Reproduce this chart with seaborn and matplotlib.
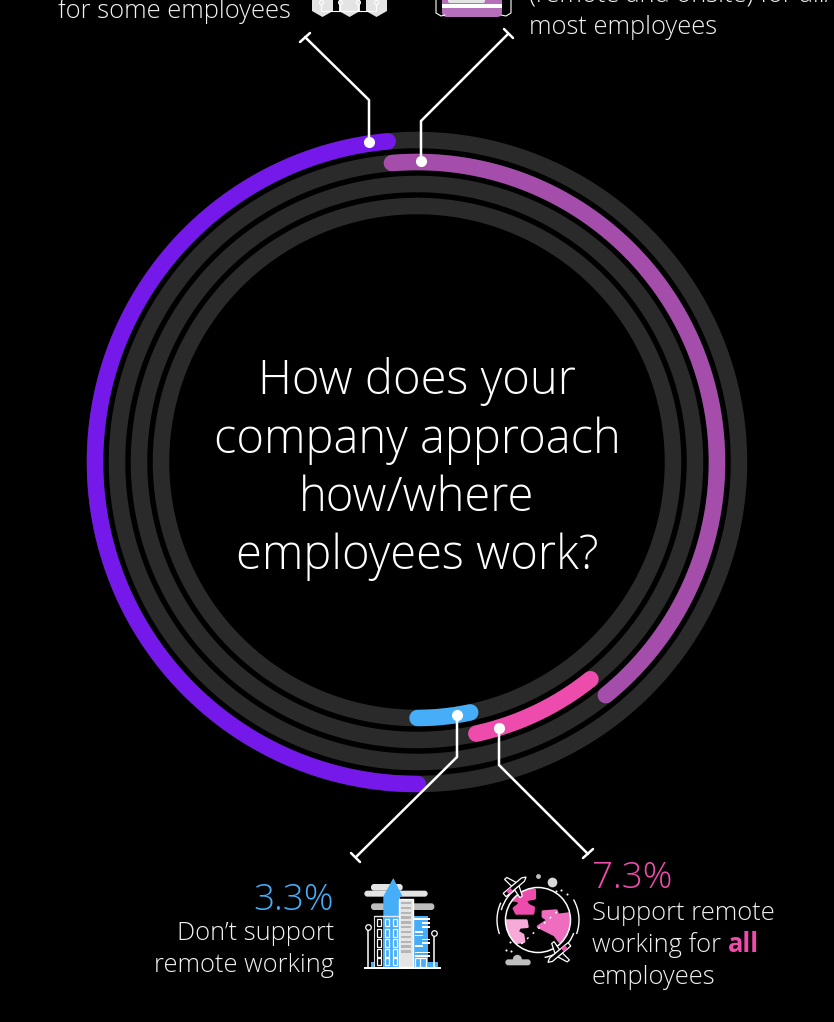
import numpy as np
import pandas as pd
import matplotlib
matplotlib.use("Agg")
import matplotlib.pyplot as plt
from matplotlib.patches import Rectangle, Polygon, Circle, Arc, FancyBboxPatch
import seaborn as sns

categories = ["Support some remote", "Hybrid for all/most", "Remote for all", "No remote"]
values = [48.6, 40.5, 7.3, 3.3]
start_angle_deg = [-5.2, -4.8, 141.4, 168.0]
ring_radius = [322, 300, 278, 256]
colors = ["#7419EA", "#A44DAB", "#EE4CAC", "#46AEF9"]
title_lines = ["How does your", "company approach", "how/where", "employees work?"]

BG = "#000000"
TRACK = "#2A2A2A"
FONT = "Open Sans"
GREY = "#E4E4E4"

sns.set_theme(style="dark", rc={"figure.facecolor": BG, "axes.facecolor": BG,
                                "savefig.facecolor": BG})
plt.rcParams["font.family"] = [FONT, "DejaVu Sans"]

W, H, R = 834, 1022, 340
cx, cy = 417, 462
fig = plt.figure(figsize=(W / 100, H / 100), dpi=100)

ax = fig.add_axes([(cx - R) / W, (H - cy - R) / H, 2 * R / W, 2 * R / H], projection="polar")
ax.set_theta_zero_location("N")
ax.set_theta_direction(-1)
ax.set_ylim(0, R)
ax.axis("off")
LW = 16.5 * 72 / 100

for r in ring_radius:
    th = np.linspace(0, 2 * np.pi, 720)
    df = pd.DataFrame({"t": th, "r": np.full_like(th, r, dtype=float)})
    sns.lineplot(data=df, x="t", y="r", ax=ax, color=TRACK, lw=LW, sort=False, estimator=None)

# purple runs the other way round: counter-clockwise from the top
for i, (v, s, r, c) in enumerate(zip(values, start_angle_deg, ring_radius, colors)):
    sweep = v * 3.6
    th = np.radians(np.linspace(s, s - sweep if i == 0 else s + sweep, 360))
    df = pd.DataFrame({"t": th, "r": np.full_like(th, r, dtype=float)})
    sns.lineplot(data=df, x="t", y="r", ax=ax, color=c, lw=LW, sort=False, estimator=None,
                 solid_capstyle="round")
ax.set_xlabel(""); ax.set_ylabel("")

# overlay in pixel coordinates
ov = fig.add_axes([0, 0, 1, 1], facecolor="none")
ov.set_xlim(0, W); ov.set_ylim(H, 0); ov.axis("off")

def T(x, y, s, size=18.4, color="#F2F2F2", ha="left", weight="light", **k):
    return ov.text(x, y, s, fontsize=size, color=color, ha=ha, va="center", weight=weight, **k)

for y, s in zip([382, 441, 499, 557], title_lines):
    T(417, y, s, size=33.9, ha="center", color="white")

# leaders
leaders = [
    ([369, 369, 305], [142, 100, 37], (310, 33, 300, 42)),
    ([421, 421, 508], [161, 121, 34], (504, 29, 513, 38)),
    ([457, 457, 356], [715, 757, 857], (351, 853, 360, 862)),
    ([499, 499, 588], [728, 765, 854], (593, 849, 583, 858)),
]
for xs, ys, t in leaders:
    ov.plot(xs, ys, color="white", lw=1.8, solid_joinstyle="miter")
    ov.plot([t[0], t[2]], [t[1], t[3]], color="white", lw=1.8)
    ov.plot(xs[0], ys[0], "o", color="white", ms=8, mew=0)

# text blocks
T(58, 11, "for some employees")
T(529, -4, "(remote and onsite) for all/")
T(529, 28, "most employees")
T(334, 900, "3.3%", size=26.6, color=colors[3], ha="right")
T(334, 934, "Don’t support", ha="right")
T(334, 966, "remote working", ha="right")
T(592, 879, "7.3%", size=26.6, color=colors[2])
T(592, 913, "Support remote")
T(592, 945, "working for")
T(728, 945, "all", color=colors[2], weight="bold")
T(592, 977, "employees")

# ---- decorative icons (pixel coordinates) ----
def rect(x0, y0, x1, y1, fc, ec="none", lw=0, z=3, round_=0):
    if round_:
        p = FancyBboxPatch((x0 + round_, y0 + round_), x1 - x0 - 2 * round_, y1 - y0 - 2 * round_,
                           boxstyle=f"round,pad={round_}", fc=fc, ec=ec, lw=lw, zorder=z)
    else:
        p = Rectangle((x0, y0), x1 - x0, y1 - y0, fc=fc, ec=ec, lw=lw, zorder=z)
    ov.add_patch(p)
    return p

# top-left icon
for x0 in (312, 339, 366):
    ov.add_patch(Polygon([(x0, -2), (x0 + 21, -2), (x0 + 21, 11), (x0 + 10.5, 17), (x0, 11)],
                         fc=GREY, ec="none", zorder=3))
ov.plot([321, 321, 376, 376], [2, 11, 11, 2], color="white", lw=0.8, zorder=4)
ov.plot([340, 340], [2, 11], color="white", lw=0.8, zorder=4)
ov.plot([358, 358], [2, 11], color="white", lw=0.8, zorder=4)
for x in (321, 340, 358, 376):
    ov.plot(x, 2, "o", mfc=GREY, mec="white", ms=3, mew=0.7, zorder=5)

# top-right icon
rect(442, -12, 502, 17, "#B56FBB", round_=5)
rect(442, 4, 502, 8, "white", z=4)
rect(448, -8, 485, 3, GREY, round_=2, z=4)
ov.plot([436, 436, 441, 445], [0, 13, 16, 15], color="white", lw=0.8, zorder=4)
ov.plot([511, 511, 506, 501], [0, 13, 16, 15], color="white", lw=0.8, zorder=4)

# building icon
bx = lambda v: 355 + v / 3
by = lambda v: 870 + v / 3
def brect(x0, y0, x1, y1, fc, **k):
    return rect(bx(x0), by(y0), bx(x1), by(y1), fc, **k)
brect(48, 42, 143, 62, GREY, round_=3, z=2)
brect(28, 62, 218, 80, GREY, round_=3, z=2)
brect(48, 100, 238, 120, "#BDBDBD", round_=3, z=2)
blue = colors[3]
ov.add_patch(Polygon([(bx(115), by(25)), (bx(85), by(80)), (bx(85), by(290)), (bx(135), by(290)),
                      (bx(135), by(70))], fc=blue, ec="none", zorder=3))
ov.add_patch(Polygon([(bx(115), by(25)), (bx(85), by(80)), (bx(143), by(80))], fc=blue, ec="none", zorder=3))
brect(175, 138, 220, 290, blue)
brect(48, 275, 248, 292, blue)
brect(57, 138, 85, 290, BG, ec="#D8D8D8", lw=0.8, z=4)
brect(85, 138, 132, 290, blue, z=4)
ov.plot([bx(57), bx(132)], [by(138), by(138)], color="#E8E8E8", lw=1, zorder=5)
for col, xx in ((BG, [65]), (blue, [90, 113])):
    for x0 in xx:
        for y0 in (147, 178, 208, 238, 264):
            brect(x0, y0, x0 + 13, y0 + 22, col, ec="white", lw=0.9, z=5)
brect(132, 88, 173, 290, GREY, ec="white", lw=1, z=5)
for y0 in np.arange(96, 250, 14.5):
    brect(138, y0, 167, y0 + 7, "#B5B5B5", z=6)
for y0, x0, x1 in [(145, 178, 225), (156, 200, 225), (168, 200, 225), (183, 180, 203), (194, 180, 203),
                   (206, 202, 225), (216, 202, 225), (226, 180, 203), (245, 180, 225), (256, 180, 225)]:
    brect(x0, y0, x1, y0 + 5, "white", z=5)
brect(180, 264, 212, 290, blue, ec="white", lw=0.9, z=5)
ov.plot([bx(196), bx(196)], [by(266), by(290)], color="white", lw=0.9, zorder=6)
brect(28, 292, 258, 297, "white", z=7)
for x, y in ((38, 172), (237, 190)):
    ov.plot([bx(x), bx(x)], [by(y), by(292)], color="white", lw=1.1, zorder=6)
    ov.plot(bx(x), by(y), "o", mfc=BG, mec="white", ms=4, mew=0.9, zorder=7)

# globe icon
gx = lambda v: 488 + v / 3
gy = lambda v: 870 + v / 3
clipc = Circle((gx(150), gy(150)), 32.5, transform=ov.transData)
pink = colors[2]
blobs = [
    ([(70, 68), (100, 55), (140, 60), (140, 85), (112, 90), (120, 105), (137, 113), (135, 130),
      (85, 130), (78, 115), (95, 102), (90, 92), (68, 90)], pink),
    ([(165, 125), (205, 122), (210, 135), (250, 130), (250, 200), (215, 215), (200, 195), (170, 180),
      (150, 170), (180, 150), (165, 140)], "#EE6DBE"),
    ([(48, 152), (115, 152), (118, 170), (95, 172), (88, 185), (105, 195), (108, 215), (85, 218),
      (80, 238), (58, 215), (48, 185)], "#F7AAD8"),
]
for pts, col in blobs:
    p = Polygon([(gx(u), gy(v)) for u, v in pts], fc=col, ec=col, lw=2, joinstyle="round", zorder=3)
    ov.add_patch(p)
    p.set_clip_path(clipc)
ov.add_patch(Circle((gx(150), gy(150)), 32.5, fc="none", ec="white", lw=1.1, zorder=5))
for r_, a0, a1 in [(38, 195, 240), (41, 160, 205), (38, 20, 80), (41, 330, 380)]:
    ov.add_patch(Arc((gx(150), gy(150)), 2 * r_, 2 * r_, angle=0, theta1=a0, theta2=a1,
                     ec="white", lw=1, zorder=5))
ov.plot([gx(100), gx(215)], [gy(222), gy(118)], color="white", lw=1, ls=(0, (1.5, 4)), zorder=6)
for x, y in [(65, 215), (55, 240), (70, 243), (218, 60), (238, 72), (205, 62)]:
    ov.plot(gx(x), gy(y), "o", color="white", ms=1.5, mew=0, zorder=6)
ov.plot(gx(193), gy(35), "o", color="#D9D9D9", ms=7, mew=0, zorder=6)
ov.plot(gx(151), gy(18), "o", color="#BDBDBD", ms=3.5, mew=0, zorder=6)
rect(gx(52), gy(268), gx(128), gy(286), "#BFBFBF", round_=3, z=3)
ov.add_patch(Circle((gx(88), gy(268)), 4.5, fc="#BFBFBF", ec="none", zorder=3))

def plane(px, py, angle):
    a = np.radians(angle)
    rot = lambda u, v: (gx(px) + (u * np.cos(a) - v * np.sin(a)), gy(py) + (u * np.sin(a) + v * np.cos(a)))
    body = [(-14, -2.2), (10, -2.2), (14, 0), (10, 2.2), (-14, 2.2)]
    wing1 = [(-3, -2), (3, -2), (-1, -12), (-4, -12)]
    wing2 = [(-3, 2), (3, 2), (-1, 12), (-4, 12)]
    for shape in (wing1, wing2, body):
        ov.add_patch(Polygon([rot(u, v) for u, v in shape], fc=BG, ec="white", lw=0.9, zorder=7))
    ov.add_patch(Polygon([rot(u, v) for u, v in [(-10, -2), (-5, -2), (-5, 2), (-10, 2)]],
                         fc=pink, ec="none", zorder=8))
plane(82, 48, 140 + 180)
plane(212, 250, 140)

fig.savefig("out.png", dpi=100, facecolor=BG)
